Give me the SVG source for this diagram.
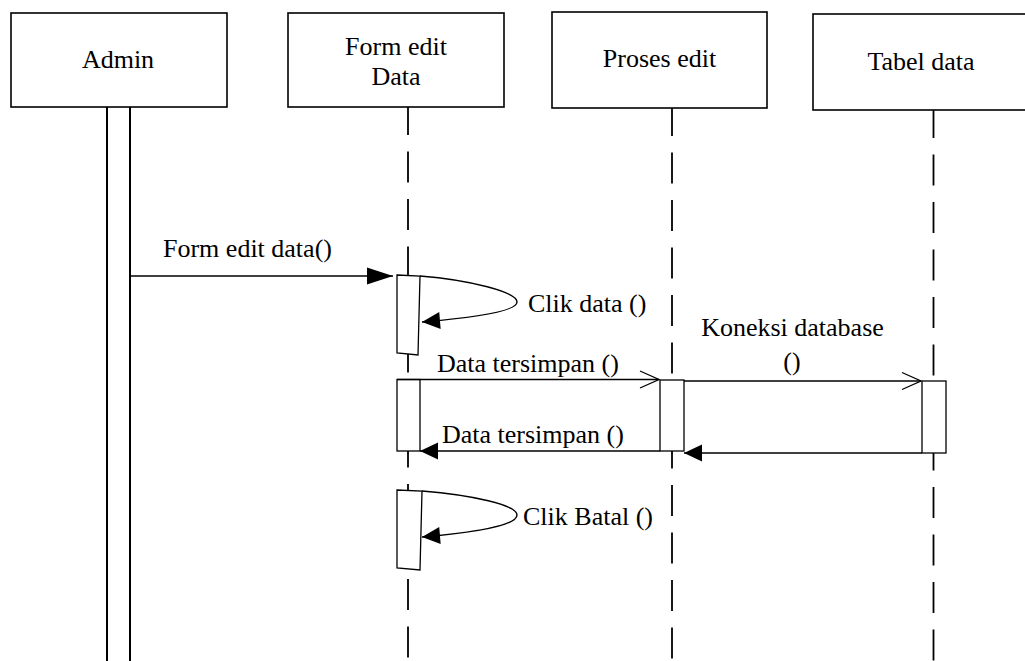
<svg xmlns="http://www.w3.org/2000/svg" width="1025" height="661" viewBox="0 0 1025 661">
<style>
.box{fill:#fff;stroke:#000;stroke-width:1.6}
.act{fill:#fff;stroke:#000;stroke-width:1.3}
.life{stroke:#000;stroke-width:1.8;stroke-dasharray:31 16.5;fill:none}
.solid{stroke:#000;stroke-width:2;fill:none}
.msg{stroke:#000;stroke-width:1.4;fill:none}
.t{font-family:'Liberation Serif','Times New Roman',serif;font-size:26px;fill:#000}
.c{text-anchor:middle}
</style>
<defs>
<marker id="big" markerUnits="userSpaceOnUse" markerWidth="27" markerHeight="18" refX="26" refY="8.5" orient="auto" overflow="visible"><path d="M0,0 L26,8.5 L0,17 z" fill="#000"/></marker>
<marker id="fill" markerUnits="userSpaceOnUse" markerWidth="19" markerHeight="18" refX="18" refY="8.5" orient="auto" overflow="visible"><path d="M0,0 L18,8.5 L0,17 z" fill="#000"/></marker>
<marker id="open" markerUnits="userSpaceOnUse" markerWidth="20" markerHeight="18" refX="19" refY="8.5" orient="auto" overflow="visible"><path d="M0,0 L19,8.5 L0,17" fill="none" stroke="#000" stroke-width="1.3"/></marker>
</defs>
<g id="lifelines">
<line class="solid" x1="107" y1="107" x2="107" y2="661"/>
<line class="solid" x1="130" y1="107" x2="130" y2="661"/>
<line class="life" x1="408" y1="104" x2="408" y2="661"/>
<line class="life" x1="672" y1="105" x2="672" y2="661"/>
<line class="life" x1="933.5" y1="107" x2="933.5" y2="661"/>
</g>
<g id="admin">
<rect class="box" x="11" y="13" width="216" height="94"/>
<text class="t c" x="118" y="68">Admin</text>
</g>
<g id="form-edit-data">
<rect class="box" x="288" y="13" width="216" height="94"/>
<text class="t c" x="396" y="55">Form edit</text>
<text class="t c" x="396" y="85">Data</text>
</g>
<g id="proses-edit">
<rect class="box" x="552" y="12" width="215" height="96"/>
<text class="t c" x="659.5" y="67">Proses edit</text>
</g>
<g id="tabel-data">
<rect class="box" x="813" y="14" width="216" height="96"/>
<text class="t c" x="921" y="70">Tabel data</text>
</g>
<g id="activations">
<polygon class="act" points="397,275 420,276 418,355 397,353"/>
<rect class="act" x="397" y="379.5" width="23" height="71.5"/>
<rect class="act" x="660" y="380" width="24" height="71"/>
<rect class="act" x="922" y="381" width="24" height="72"/>
<polygon class="act" points="397,490 422,491 420,570 397,568"/>
</g>
<g id="connectors">
<line class="msg" x1="130" y1="276" x2="393" y2="276" marker-end="url(#big)"/>
<path class="msg" d="M420,276 C470,280 517,292 517,302 C517,312 470,318 422,322" marker-end="url(#fill)"/>
<line class="msg" x1="397" y1="379.5" x2="659" y2="379.5" marker-end="url(#open)"/>
<line class="msg" x1="684" y1="381" x2="921" y2="381" marker-end="url(#open)"/>
<line class="msg" x1="660" y1="451" x2="420" y2="451" marker-end="url(#fill)"/>
<line class="msg" x1="922" y1="453" x2="684" y2="453" marker-end="url(#fill)"/>
<path class="msg" d="M422,491 C472,495 517,505 517,515 C517,526 470,533 422,537" marker-end="url(#fill)"/>
</g>
<g id="labels">
<text class="t" x="163" y="257">Form edit data()</text>
<text class="t" x="528" y="312">Clik data ()</text>
<text class="t" x="437" y="372">Data tersimpan ()</text>
<text class="t c" x="792.5" y="336">Koneksi database</text>
<text class="t c" x="792" y="370">()</text>
<text class="t" x="442" y="443">Data tersimpan ()</text>
<text class="t" x="523" y="525">Clik Batal ()</text>
</g>
</svg>
